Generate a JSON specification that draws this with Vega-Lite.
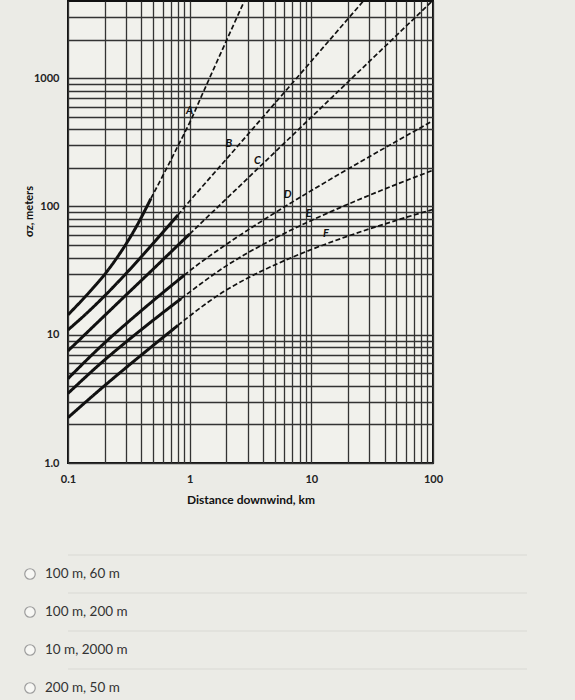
{
  "$schema": "https://vega.github.io/schema/vega-lite/v6.json",
  "background": "#ebebe6",
  "padding": {"left": 22, "top": 0, "right": 0, "bottom": 0},
  "spacing": 48,
  "config": {
    "view": {"stroke": "#111111", "strokeWidth": 2, "fill": "#f1f1ec"},
    "font": "Lato"
  },
  "vconcat": [
    {
      "width": 365,
      "height": 462,
      "layer": [
        {
          "data": {
            "values": [
              {"curve": "A", "seg": "solid", "x": 0.1, "y": 14.3},
              {"curve": "A", "seg": "solid", "x": 0.15, "y": 21.5},
              {"curve": "A", "seg": "solid", "x": 0.2, "y": 29.5},
              {"curve": "A", "seg": "solid", "x": 0.25, "y": 39.3},
              {"curve": "A", "seg": "solid", "x": 0.3, "y": 51},
              {"curve": "A", "seg": "solid", "x": 0.35, "y": 65},
              {"curve": "A", "seg": "solid", "x": 0.4, "y": 82},
              {"curve": "A", "seg": "solid", "x": 0.48, "y": 115.3},
              {"curve": "A", "seg": "dashed", "x": 0.48, "y": 115.3},
              {"curve": "A", "seg": "dashed", "x": 0.5, "y": 124.1},
              {"curve": "A", "seg": "dashed", "x": 0.6, "y": 172.8},
              {"curve": "A", "seg": "dashed", "x": 0.7, "y": 229.9},
              {"curve": "A", "seg": "dashed", "x": 0.85, "y": 330.9},
              {"curve": "A", "seg": "dashed", "x": 1, "y": 450},
              {"curve": "A", "seg": "dashed", "x": 1.25, "y": 723.9},
              {"curve": "A", "seg": "dashed", "x": 1.5, "y": 1065},
              {"curve": "A", "seg": "dashed", "x": 2, "y": 1953},
              {"curve": "A", "seg": "dashed", "x": 2.5, "y": 3122},
              {"curve": "A", "seg": "dashed", "x": 3, "y": 4578},
              {"curve": "B", "seg": "solid", "x": 0.1, "y": 10.9},
              {"curve": "B", "seg": "solid", "x": 0.15, "y": 15.4},
              {"curve": "B", "seg": "solid", "x": 0.2, "y": 20.1},
              {"curve": "B", "seg": "solid", "x": 0.3, "y": 30.0},
              {"curve": "B", "seg": "solid", "x": 0.4, "y": 40.5},
              {"curve": "B", "seg": "solid", "x": 0.5, "y": 51.4},
              {"curve": "B", "seg": "solid", "x": 0.7, "y": 74.1},
              {"curve": "B", "seg": "solid", "x": 0.8, "y": 85.8},
              {"curve": "B", "seg": "dashed", "x": 0.8, "y": 85.8},
              {"curve": "B", "seg": "dashed", "x": 1, "y": 110.2},
              {"curve": "B", "seg": "dashed", "x": 2, "y": 233.6},
              {"curve": "B", "seg": "dashed", "x": 3, "y": 363.5},
              {"curve": "B", "seg": "dashed", "x": 5, "y": 635.4},
              {"curve": "B", "seg": "dashed", "x": 7, "y": 918.6},
              {"curve": "B", "seg": "dashed", "x": 10, "y": 1358},
              {"curve": "B", "seg": "dashed", "x": 20, "y": 2905},
              {"curve": "B", "seg": "dashed", "x": 30, "y": 4530},
              {"curve": "C", "seg": "solid", "x": 0.1, "y": 7.49},
              {"curve": "C", "seg": "solid", "x": 0.2, "y": 14.1},
              {"curve": "C", "seg": "solid", "x": 0.3, "y": 20.4},
              {"curve": "C", "seg": "solid", "x": 0.5, "y": 32.4},
              {"curve": "C", "seg": "solid", "x": 0.7, "y": 44.1},
              {"curve": "C", "seg": "solid", "x": 1, "y": 61},
              {"curve": "C", "seg": "dashed", "x": 1, "y": 61},
              {"curve": "C", "seg": "dashed", "x": 2, "y": 114.7},
              {"curve": "C", "seg": "dashed", "x": 3, "y": 165.9},
              {"curve": "C", "seg": "dashed", "x": 5, "y": 264.3},
              {"curve": "C", "seg": "dashed", "x": 10, "y": 497},
              {"curve": "C", "seg": "dashed", "x": 20, "y": 934.5},
              {"curve": "C", "seg": "dashed", "x": 30, "y": 1352},
              {"curve": "C", "seg": "dashed", "x": 50, "y": 2153},
              {"curve": "C", "seg": "dashed", "x": 100, "y": 4049},
              {"curve": "D", "seg": "solid", "x": 0.1, "y": 4.55},
              {"curve": "D", "seg": "solid", "x": 0.2, "y": 8.64},
              {"curve": "D", "seg": "solid", "x": 0.3, "y": 12.17},
              {"curve": "D", "seg": "solid", "x": 0.5, "y": 18.39},
              {"curve": "D", "seg": "solid", "x": 0.7, "y": 23.94},
              {"curve": "D", "seg": "solid", "x": 0.9, "y": 29.06},
              {"curve": "D", "seg": "dashed", "x": 0.9, "y": 29.06},
              {"curve": "D", "seg": "dashed", "x": 1, "y": 31.5},
              {"curve": "D", "seg": "dashed", "x": 2, "y": 50.6},
              {"curve": "D", "seg": "dashed", "x": 3, "y": 65.4},
              {"curve": "D", "seg": "dashed", "x": 5, "y": 89.1},
              {"curve": "D", "seg": "dashed", "x": 10, "y": 133},
              {"curve": "D", "seg": "dashed", "x": 20, "y": 195.8},
              {"curve": "D", "seg": "dashed", "x": 30, "y": 244.4},
              {"curve": "D", "seg": "dashed", "x": 50, "y": 322},
              {"curve": "D", "seg": "dashed", "x": 100, "y": 465.9},
              {"curve": "E", "seg": "solid", "x": 0.1, "y": 3.49},
              {"curve": "E", "seg": "solid", "x": 0.2, "y": 6.36},
              {"curve": "E", "seg": "solid", "x": 0.3, "y": 8.78},
              {"curve": "E", "seg": "solid", "x": 0.5, "y": 12.95},
              {"curve": "E", "seg": "solid", "x": 0.7, "y": 16.6},
              {"curve": "E", "seg": "solid", "x": 0.85, "y": 19.12},
              {"curve": "E", "seg": "dashed", "x": 0.85, "y": 19.12},
              {"curve": "E", "seg": "dashed", "x": 1, "y": 21.5},
              {"curve": "E", "seg": "dashed", "x": 2, "y": 34.44},
              {"curve": "E", "seg": "dashed", "x": 3, "y": 43.45},
              {"curve": "E", "seg": "dashed", "x": 5, "y": 56.5},
              {"curve": "E", "seg": "dashed", "x": 10, "y": 77.8},
              {"curve": "E", "seg": "dashed", "x": 20, "y": 104.1},
              {"curve": "E", "seg": "dashed", "x": 30, "y": 122.3},
              {"curve": "E", "seg": "dashed", "x": 50, "y": 148.7},
              {"curve": "E", "seg": "dashed", "x": 100, "y": 191.7},
              {"curve": "F", "seg": "solid", "x": 0.1, "y": 2.26},
              {"curve": "F", "seg": "solid", "x": 0.2, "y": 4.01},
              {"curve": "F", "seg": "solid", "x": 0.3, "y": 5.54},
              {"curve": "F", "seg": "solid", "x": 0.5, "y": 8.24},
              {"curve": "F", "seg": "solid", "x": 0.7, "y": 10.67},
              {"curve": "F", "seg": "solid", "x": 0.8, "y": 11.82},
              {"curve": "F", "seg": "dashed", "x": 0.8, "y": 11.82},
              {"curve": "F", "seg": "dashed", "x": 1, "y": 14.0},
              {"curve": "F", "seg": "dashed", "x": 2, "y": 22.32},
              {"curve": "F", "seg": "dashed", "x": 3, "y": 27.69},
              {"curve": "F", "seg": "dashed", "x": 5, "y": 35.03},
              {"curve": "F", "seg": "dashed", "x": 10, "y": 46.15},
              {"curve": "F", "seg": "dashed", "x": 20, "y": 58.74},
              {"curve": "F", "seg": "dashed", "x": 30, "y": 66.87},
              {"curve": "F", "seg": "dashed", "x": 50, "y": 77.99},
              {"curve": "F", "seg": "dashed", "x": 100, "y": 94.81}
            ]
          },
          "mark": {"type": "line", "clip": true, "interpolate": "monotone", "color": "#111111"},
          "encoding": {
            "x": {
              "field": "x",
              "type": "quantitative",
              "scale": {"type": "log", "domain": [0.1, 100], "nice": false},
              "axis": {
                "values": [0.1, 0.2, 0.3, 0.4, 0.5, 0.6, 0.7, 0.8, 0.9, 1, 2, 3, 4, 5, 6, 7, 8, 9, 10, 20, 30, 40, 50, 60, 70, 80, 90, 100],
                "labelExpr": "datum.value == 0.1 ? '0.1' : datum.value == 1 ? '1' : datum.value == 10 ? '10' : datum.value == 100 ? '100' : ''",
                "labelOverlap": false,
                "labelFlush": false,
                "labelFont": "Lato",
                "labelFontWeight": "bold",
                "labelFontSize": 11,
                "labelColor": "#222222",
                "labelPadding": 10,
                "ticks": false,
                "tickSize": 0,
                "domain": false,
                "grid": true,
                "gridColor": "#333333",
                "gridWidth": 1.3,
                "gridOpacity": 1,
                "title": "Distance downwind, km",
                "titleFont": "Lato",
                "titleFontWeight": "bold",
                "titleFontSize": 12,
                "titleColor": "#111111",
                "titlePadding": 10
              }
            },
            "y": {
              "field": "y",
              "type": "quantitative",
              "scale": {"type": "log", "domain": [1, 4000], "nice": false},
              "axis": {
                "values": [1, 2, 3, 4, 5, 6, 7, 8, 9, 10, 20, 30, 40, 50, 60, 70, 80, 90, 100, 200, 300, 400, 500, 600, 700, 800, 900, 1000, 2000, 3000],
                "labelExpr": "datum.value == 1 ? '1.0' : datum.value == 10 ? '10' : datum.value == 100 ? '100' : datum.value == 1000 ? '1000' : ''",
                "labelOverlap": false,
                "labelFlush": false,
                "labelFont": "Lato",
                "labelFontWeight": "bold",
                "labelFontSize": 11,
                "labelColor": "#222222",
                "labelPadding": 9,
                "ticks": false,
                "tickSize": 0,
                "domain": false,
                "grid": true,
                "gridColor": "#333333",
                "gridWidth": 1.3,
                "gridOpacity": 1,
                "title": "σz, meters",
                "titleFont": "Lato",
                "titleFontWeight": "bold",
                "titleFontSize": 11,
                "titleColor": "#111111",
                "titleX": -34,
                "titleY": 210
              }
            },
            "detail": {"field": "curve"},
            "strokeDash": {
              "field": "seg",
              "type": "nominal",
              "scale": {"domain": ["solid", "dashed"], "range": [[1, 0], [5, 2.5]]},
              "legend": null
            },
            "strokeWidth": {
              "field": "seg",
              "type": "nominal",
              "scale": {"domain": ["solid", "dashed"], "range": [3, 1.7]},
              "legend": null
            }
          }
        },
        {
          "data": {
            "values": [
              {"letter": "A", "x": 1.0, "y": 557},
              {"letter": "B", "x": 2.1, "y": 305},
              {"letter": "C", "x": 3.6, "y": 226},
              {"letter": "D", "x": 6.4, "y": 122},
              {"letter": "E", "x": 9.5, "y": 88},
              {"letter": "F", "x": 13.2, "y": 61}
            ]
          },
          "mark": {"type": "text", "font": "Lato", "fontStyle": "italic", "fontWeight": "bold", "fontSize": 11, "color": "#111111"},
          "encoding": {
            "x": {"field": "x", "type": "quantitative"},
            "y": {"field": "y", "type": "quantitative"},
            "text": {"field": "letter"}
          }
        }
      ]
    },
    {
      "width": 507,
      "height": 152,
      "view": {"stroke": null, "fill": null},
      "data": {
        "values": [
          {"opt": "100 m, 60 m"},
          {"opt": "100 m, 200 m"},
          {"opt": "10 m, 2000 m"},
          {"opt": "200 m, 50 m"}
        ]
      },
      "layer": [
        {
          "mark": {"type": "rule", "color": "#d9d9d4", "strokeWidth": 1, "xOffset": -48, "x2Offset": -47},
          "encoding": {
            "y": {"field": "opt", "type": "nominal", "sort": null, "bandPosition": 0, "axis": null, "scale": {"paddingInner": 0, "paddingOuter": 0}}
          }
        },
        {
          "mark": {"type": "point", "shape": "circle", "size": 110, "filled": false, "fill": "#f7f7f4", "fillOpacity": 1, "stroke": "#9c9c9c", "strokeWidth": 1.2, "xOffset": -38},
          "encoding": {
            "x": {"datum": 0, "type": "quantitative", "scale": {"domain": [0, 1]}, "axis": null},
            "y": {"field": "opt", "type": "nominal", "sort": null, "axis": null}
          }
        },
        {
          "mark": {"type": "text", "align": "left", "baseline": "middle", "dx": -23, "font": "Lato", "fontSize": 13.5, "color": "#333333"},
          "encoding": {
            "x": {"datum": 0, "type": "quantitative", "axis": null},
            "y": {"field": "opt", "type": "nominal", "sort": null, "axis": null},
            "text": {"field": "opt"}
          }
        }
      ]
    }
  ]
}
